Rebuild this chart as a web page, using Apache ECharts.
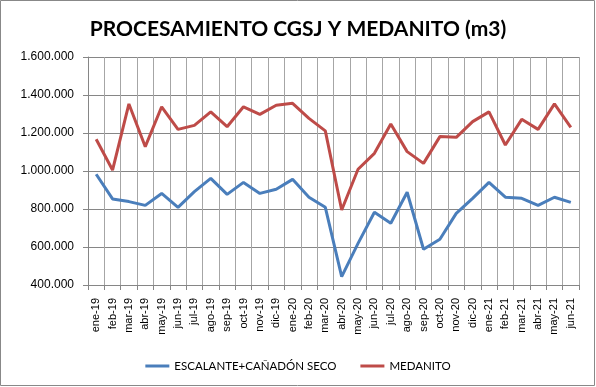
<!DOCTYPE html>
<html>
<head>
<meta charset="utf-8">
<script src="https://cdn.jsdelivr.net/npm/echarts@6/dist/echarts.min.js"></script>
<style>html,body{margin:0;padding:0;background:#fff}#c{width:596px;height:387px}</style>
</head>
<body>
<div id="c"></div>
<script>
var categories = ['ene-19','feb-19','mar-19','abr-19','may-19','jun-19','jul-19','ago-19','sep-19','oct-19','nov-19','dic-19',
  'ene-20','feb-20','mar-20','abr-20','may-20','jun-20','jul-20','ago-20','sep-20','oct-20','nov-20','dic-20',
  'ene-21','feb-21','mar-21','abr-21','may-21','jun-21'];
var escalante = [983000,853000,839000,819000,882000,809000,891000,961000,877000,940000,882000,904000,
  956000,862000,809000,444000,619000,783000,725000,888000,588000,641000,777000,856000,
  940000,862000,856000,819000,862000,835000];
var medanito = [1167000,1005000,1353000,1128000,1338000,1219000,1240000,1311000,1233000,1338000,1298000,1346000,
  1356000,1277000,1211000,795000,1009000,1093000,1247000,1102000,1040000,1181000,1177000,1260000,
  1311000,1137000,1272000,1219000,1353000,1230000];
var seriesNames = ['ESCALANTE+CAÑADÓN SECO','MEDANITO'];
var titleText = 'PROCESAMIENTO CGSJ Y MEDANITO (m3)';

function fmt(v){ return String(v).replace(/\B(?=(\d{3})+(?!\d))/g,'.'); }

var chart = echarts.init(document.getElementById('c'), null, {renderer:'canvas'});
chart.setOption({
  animation:false,
  backgroundColor:'#fff',
  title:{text:titleText,left:'center',top:14,
    textStyle:{fontFamily:'Lato',fontWeight:'bold',fontSize:21,color:'#000'}},
  graphic:[{type:'rect',shape:{x:0.5,y:0.5,width:594,height:385},style:{fill:null,stroke:'#888',lineWidth:1},silent:true}],
  legend:{left:'center',top:355,itemGap:24,itemWidth:24,itemHeight:3,itemTextGap:4,icon:'rect',
    textStyle:{fontFamily:'Lato',fontSize:11.5,color:'#000'},
    data:seriesNames},
  grid:{left:88,right:17,top:57,bottom:102,containLabel:false},
  xAxis:{type:'category',data:categories,boundaryGap:true,
    axisLine:{lineStyle:{color:'#868686'}},
    axisTick:{show:true,length:5,lineStyle:{color:'#868686'}},
    splitLine:{show:true,lineStyle:{color:'#a6a6a6',width:1}},
    axisLabel:{rotate:90,interval:0,margin:13,fontFamily:'Liberation Sans',fontSize:11,color:'#000'}},
  yAxis:{type:'value',min:400000,max:1600000,interval:200000,
    axisLine:{show:true,lineStyle:{color:'#868686'}},
    axisTick:{show:true,length:5,lineStyle:{color:'#868686'}},
    splitLine:{show:true,lineStyle:{color:'#868686',width:1}},
    axisLabel:{formatter:fmt,margin:14,fontFamily:'Liberation Sans',fontSize:12,color:'#000'}},
  series:[
    {name:seriesNames[0],type:'line',data:escalante,symbol:'none',lineStyle:{width:3,color:'#4A7EBB'},itemStyle:{color:'#4A7EBB'}},
    {name:seriesNames[1],type:'line',data:medanito,symbol:'none',lineStyle:{width:3,color:'#BE4B48'},itemStyle:{color:'#BE4B48'}}
  ]
});
</script>
</body>
</html>
